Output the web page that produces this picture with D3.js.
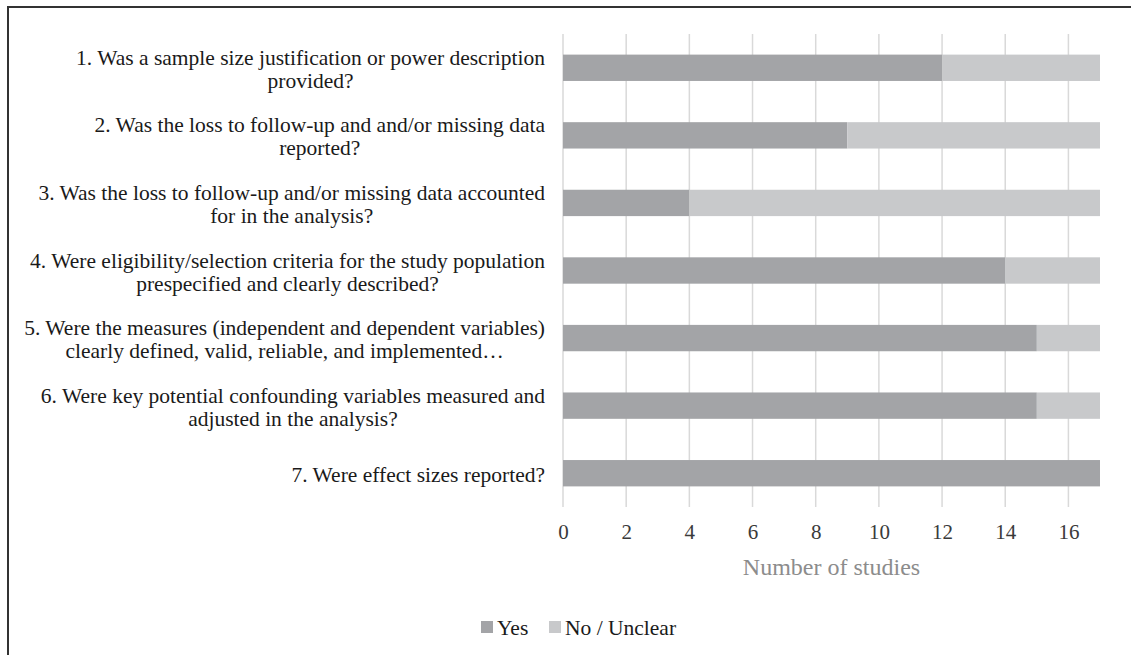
<!DOCTYPE html>
<html>
<head>
<meta charset="utf-8">
<script src="https://cdn.jsdelivr.net/npm/d3@7"></script>
<style>
  body { margin: 0; background: #fff; }
  svg text { font-family: "Liberation Serif", "Times New Roman", serif; }
</style>
</head>
<body>
<svg id="chart" width="1131" height="655"></svg>
<script>
const questions = [
    ["1. Was a sample size justification or power description", "provided?"],
    ["2. Was the loss to follow-up and and/or missing data", "reported?"],
    ["3. Was the loss to follow-up and/or missing data accounted", "for in the analysis?"],
    ["4. Were eligibility/selection criteria for the study population", "prespecified and clearly described?"],
    ["5. Were the measures (independent and dependent variables)", "clearly defined, valid, reliable, and implemented\u2026"],
    ["6. Were key potential confounding variables measured and", "adjusted in the analysis?"],
    ["7. Were effect sizes reported?"]
];
const yesValues = [12, 9, 4, 14, 15, 15, 17];
const noValues = [5, 8, 13, 3, 2, 2, 0];
const seriesNames = ["Yes", "No / Unclear"];
const xTicks = [0, 2, 4, 6, 8, 10, 12, 14, 16];

const colors = {"Yes": "#a3a4a7", "No / Unclear": "#c8c9cb"};
const serif = "'Liberation Serif', 'Times New Roman', serif";

const svg = d3.select("#chart");

// frame (right and bottom edges fall outside the picture)
svg.append("rect")
    .attr("x", 8).attr("y", 7)
    .attr("width", 1140).attr("height", 660)
    .attr("fill", "none")
    .attr("stroke", "#333")
    .attr("stroke-width", 2);

const plot = {left: 563, right: 1100, top: 34, bottom: 507};

const rows = questions.map((q, i) => ({
    idx: i,
    "Yes": yesValues[i],
    "No / Unclear": noValues[i]
}));

const x = d3.scaleLinear().domain([0, 17]).range([plot.left, plot.right]);
const y = d3.scaleBand().domain(d3.range(questions.length))
    .range([plot.top, plot.bottom]).paddingInner(0.61).paddingOuter(0.305);

// gridlines
svg.append("g")
    .selectAll("line")
    .data(xTicks)
    .join("line")
    .attr("x1", d => x(d)).attr("x2", d => x(d))
    .attr("y1", plot.top).attr("y2", plot.bottom)
    .attr("stroke", "#d9d9d9")
    .attr("stroke-width", 1.5);

// stacked bars
const stack = d3.stack().keys(seriesNames)(rows);
svg.append("g")
    .selectAll("g")
    .data(stack)
    .join("g")
    .attr("fill", d => colors[d.key])
    .selectAll("rect")
    .data(d => d)
    .join("rect")
    .attr("x", d => x(d[0]))
    .attr("y", d => y(d.data.idx))
    .attr("width", d => x(d[1]) - x(d[0]))
    .attr("height", y.bandwidth());

// x axis labels
const xAxis = d3.axisBottom(x).tickValues(xTicks).tickSize(0).tickPadding(0);
const xg = svg.append("g")
    .attr("transform", `translate(0,${plot.bottom + 17})`)
    .call(xAxis)
    .attr("font-family", serif)
    .attr("font-size", 21);
xg.select(".domain").remove();
xg.selectAll("text")
    .attr("dy", "0.71em")
    .attr("fill", "#3a3a3a");

// axis title
svg.append("text")
    .attr("x", (plot.left + plot.right) / 2)
    .attr("y", 575)
    .attr("text-anchor", "middle")
    .attr("fill", "#8c8c8c")
    .style("font-size", "24px")
    .text("Number of studies");

// category labels: block right-aligned, lines centred within it
const labelRight = 545;
const lineH = 23;
const labels = svg.append("g");
questions.forEach((lines, i) => {
    const g = labels.append("g");
    const cy = y(i) + y.bandwidth() / 2 + 1;
    const t = g.selectAll("text")
        .data(lines)
        .join("text")
        .attr("y", (d, j) => cy + (j - (lines.length - 1) / 2) * lineH)
        .attr("dy", "0.35em")
        .attr("text-anchor", "middle")
        .attr("fill", "#1a1a1a")
        .style("font-size", "21.5px")
        .text(d => d);
    let w = 0;
    t.each(function() { w = Math.max(w, this.getComputedTextLength()); });
    t.attr("x", labelRight - w / 2);
});

// legend
const legend = svg.append("g").attr("transform", "translate(0,627)");
const legendX = [481, 549];
seriesNames.forEach((name, i) => {
    legend.append("rect")
        .attr("x", legendX[i]).attr("y", -6)
        .attr("width", 12).attr("height", 12)
        .attr("fill", colors[name]);
    legend.append("text")
        .attr("x", legendX[i] + 16)
        .attr("y", 0)
        .attr("dy", "0.35em")
        .attr("fill", "#1a1a1a")
        .style("font-size", "21.5px")
        .text(name);
});
</script>
</body>
</html>
